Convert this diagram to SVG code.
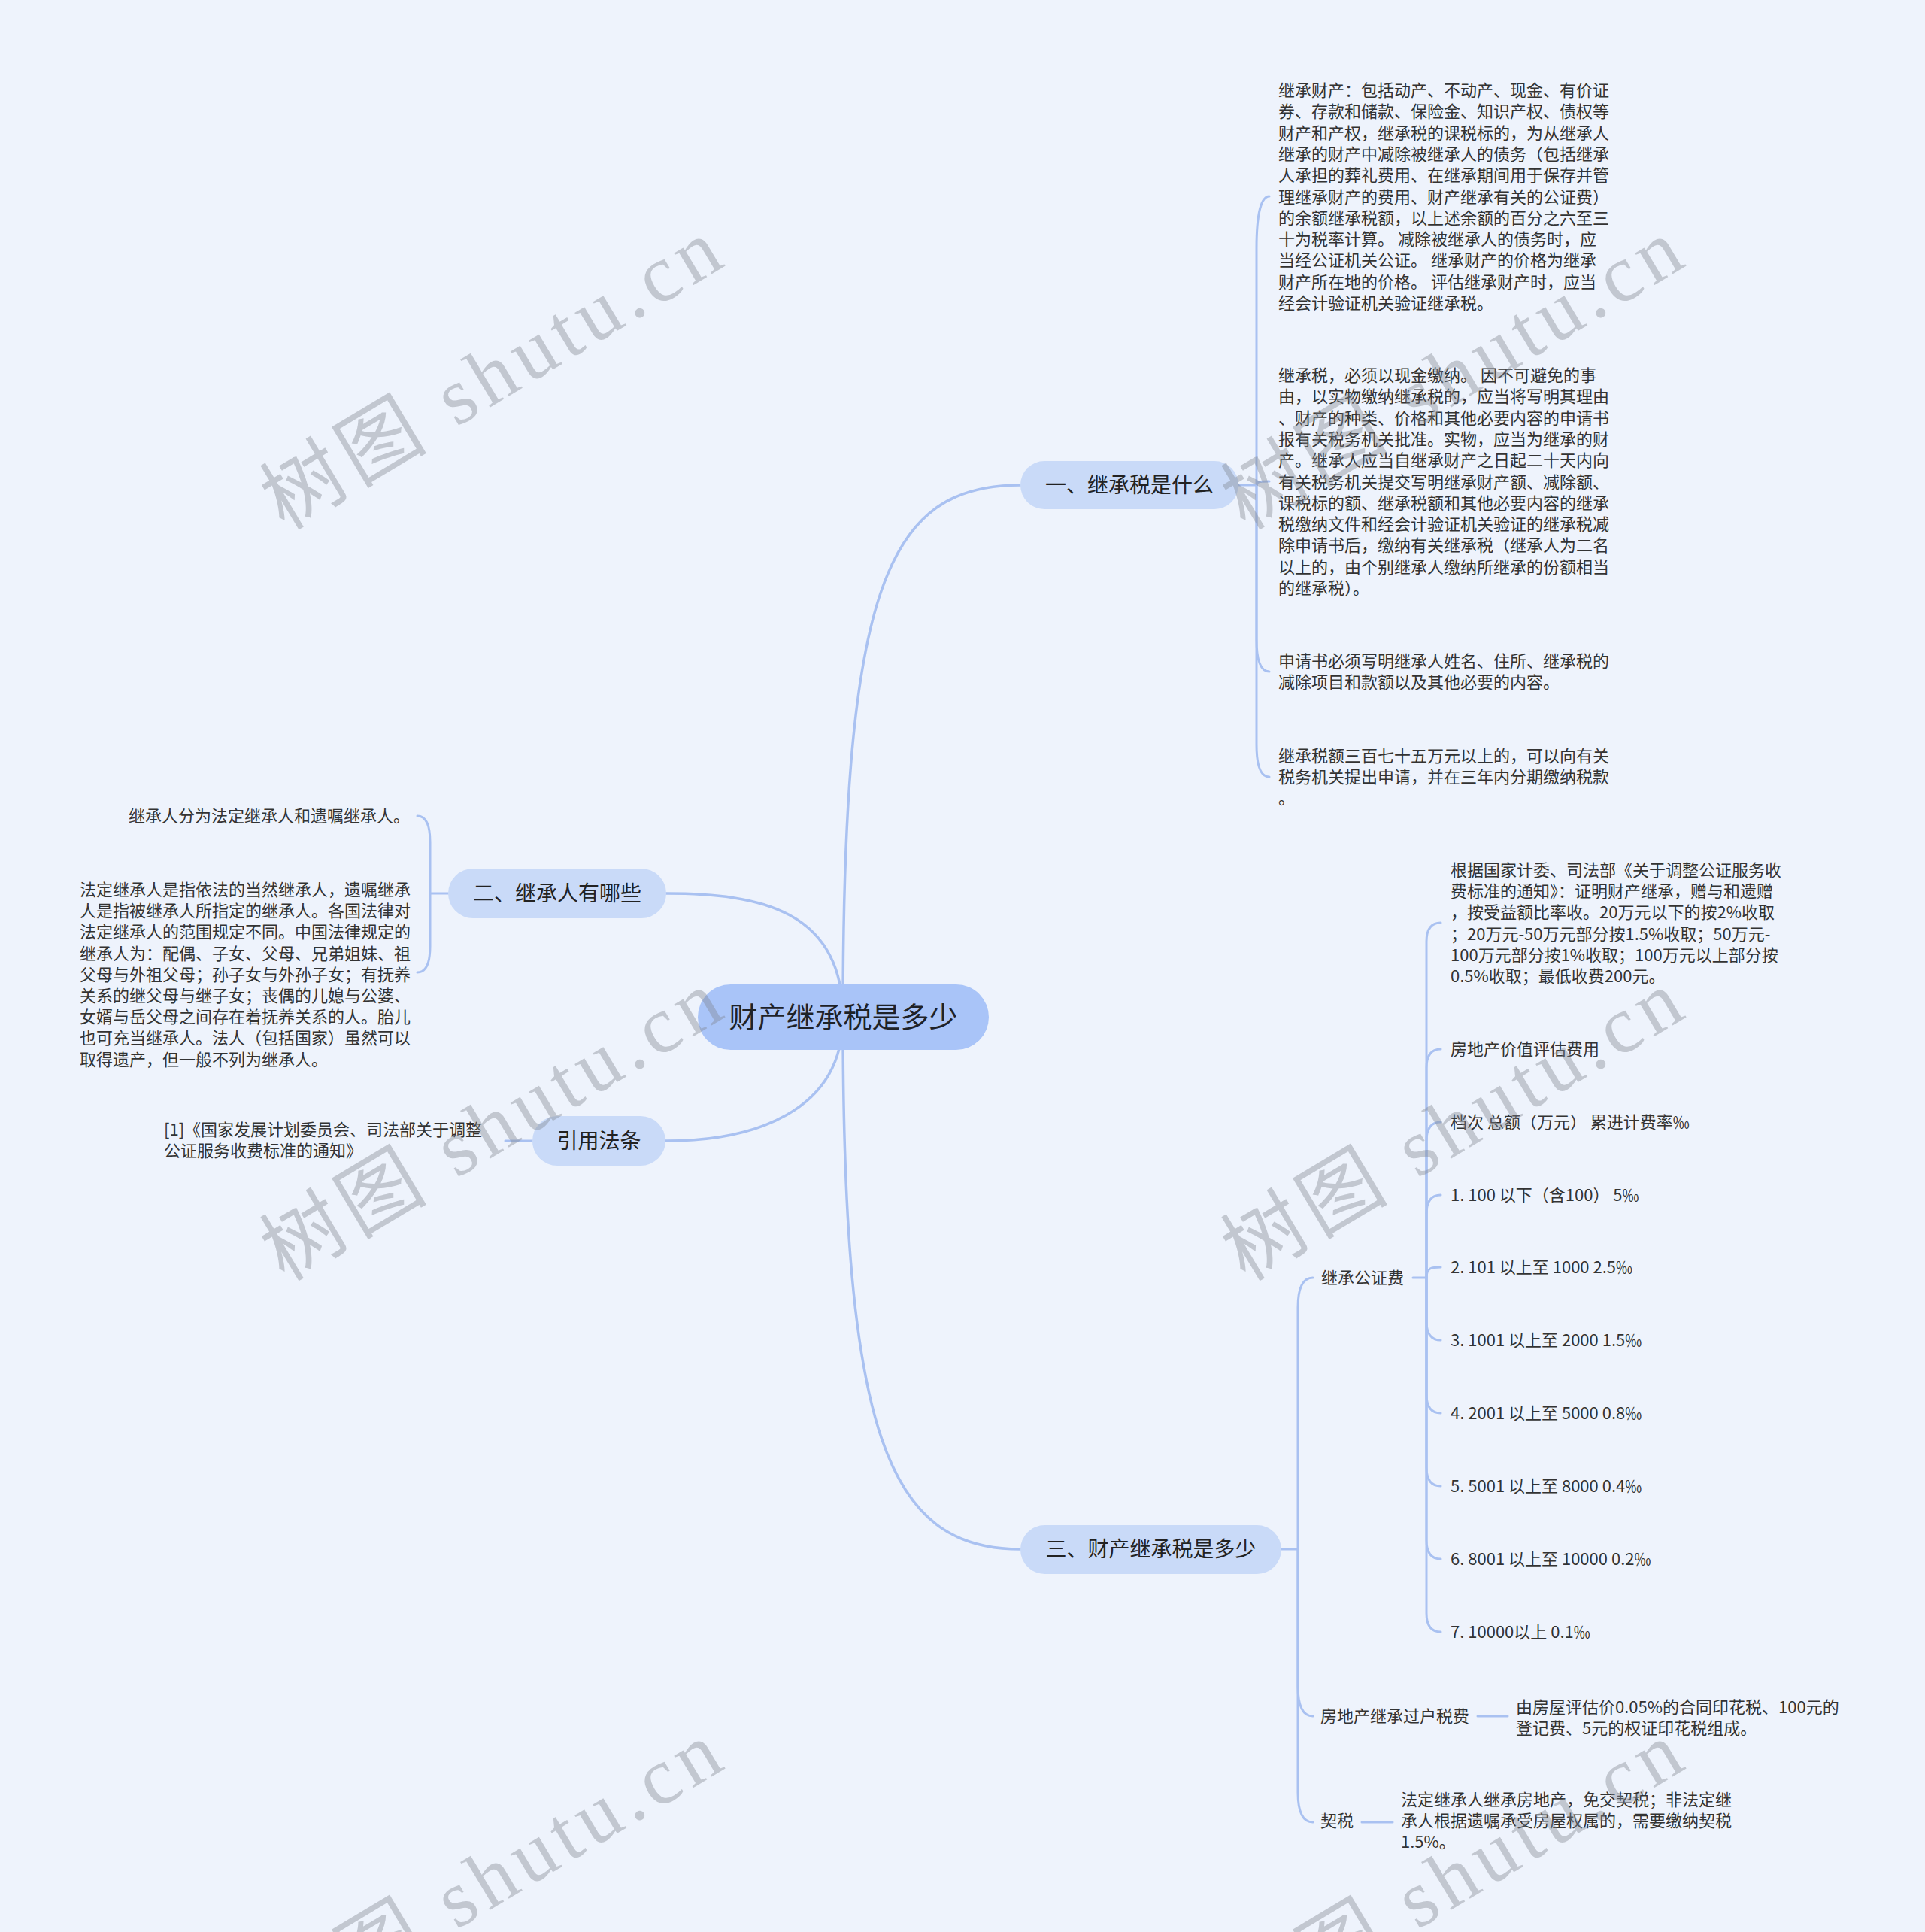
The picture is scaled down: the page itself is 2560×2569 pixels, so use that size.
<svg xmlns="http://www.w3.org/2000/svg" width="2560" height="2569" viewBox="0 0 2560 2569">
<style>
.ln{fill:none;stroke:#a9c1f1;stroke-width:3;stroke-linecap:round}
.lm{fill:none;stroke:#a9c1f1;stroke-width:3.5;stroke-linecap:round}
.t{font-family:"Noto Sans CJK SC","Noto Sans",sans-serif;font-size:22px;fill:#333}
.nt{font-family:"Noto Sans CJK SC","Noto Sans",sans-serif;font-size:28px;fill:#222;text-anchor:middle}
.rt{font-family:"Noto Sans CJK SC","Noto Sans",sans-serif;font-size:38px;fill:#1e2228;text-anchor:middle}
.n1{fill:#c9daf8}
.root{fill:#a9c4f8}
.wm{font-family:"Liberation Serif","Noto Sans CJK SC",serif;font-size:108px;fill:#80858e;fill-opacity:0.4;letter-spacing:8px}
</style>
<rect width="2560" height="2569" fill="#eef3fc"/>
<g id="connectors">
  <path class="lm" d="M1121 1352 C1121 780 1180 645 1357 645"/>
  <path class="lm" d="M1121 1352 C1121 1905 1180 2060 1357 2060"/>
  <path class="lm" d="M1121 1352 C1121 1210 1010 1188 886 1188"/>
  <path class="lm" d="M1121 1352 C1121 1480 1000 1517 885 1517"/>
  <path class="ln" d="M1647 645 L1671 645"/>
  <path class="ln" d="M1671 645 L1671 330 C1671 290 1676 261 1688 261"/>
  <path class="ln" d="M1671 645 C1671 640 1676 640 1688 640"/>
  <path class="ln" d="M1671 645 L1671 850 Q1671 893 1688 893"/>
  <path class="ln" d="M1671 645 L1671 990 Q1671 1033 1688 1033"/>
  <path class="ln" d="M596 1188 L572 1188"/>
  <path class="ln" d="M572 1188 L572 1120 Q572 1085 555 1085"/>
  <path class="ln" d="M572 1188 L572 1258 Q572 1293 555 1293"/>
  <path class="ln" d="M708 1517 L672 1517"/>
  <path class="ln" d="M1704 2060 L1726 2060"/>
  <path class="ln" d="M1726 2060 L1726 1739 Q1726 1699 1746 1699"/>
  <path class="ln" d="M1726 2060 L1726 2242 Q1726 2282 1746 2282"/>
  <path class="ln" d="M1726 2060 L1726 2383 Q1726 2423 1746 2423"/>
  <path class="ln" d="M1879 1699 L1897 1699"/>
  <path class="ln" d="M1897 1699 L1897 1252 Q1897 1227 1916 1227"/>
  <path class="ln" d="M1897 1699 L1897 1420 Q1897 1395 1916 1395"/>
  <path class="ln" d="M1897 1699 L1897 1517 Q1897 1492 1916 1492"/>
  <path class="ln" d="M1897 1699 L1897 1614 Q1897 1589 1916 1589"/>
  <path class="ln" d="M1897 1699 C1897 1685 1905 1685 1916 1685"/>
  <path class="ln" d="M1897 1699 L1897 1757 Q1897 1782 1916 1782"/>
  <path class="ln" d="M1897 1699 L1897 1854 Q1897 1879 1916 1879"/>
  <path class="ln" d="M1897 1699 L1897 1951 Q1897 1976 1916 1976"/>
  <path class="ln" d="M1897 1699 L1897 2048 Q1897 2073 1916 2073"/>
  <path class="ln" d="M1897 1699 L1897 2145 Q1897 2170 1916 2170"/>
  <path class="ln" d="M1965 2282 L2005 2282"/>
  <path class="ln" d="M1811 2423 L1852 2423"/>
</g>
<g id="root">
  <rect class="root" x="928" y="1309" width="387" height="87" rx="43.5"/>
  <text class="rt" x="1121.5" y="1366">财产继承税是多少</text>
</g>
<g id="b1">
  <rect class="n1" x="1357" y="613" width="290" height="64" rx="32"/>
  <text class="nt" x="1502" y="655">一、继承税是什么</text>
</g>
<g id="b1-a">
  <text class="t">
    <tspan x="1700" y="128">继承财产：包括动产、不动产、现金、有价证</tspan>
    <tspan x="1700" y="156">券、存款和储款、保险金、知识产权、债权等</tspan>
    <tspan x="1700" y="185">财产和产权，继承税的课税标的，为从继承人</tspan>
    <tspan x="1700" y="213">继承的财产中减除被继承人的债务（包括继承</tspan>
    <tspan x="1700" y="241">人承担的葬礼费用、在继承期间用于保存并管</tspan>
    <tspan x="1700" y="270">理继承财产的费用、财产继承有关的公证费）</tspan>
    <tspan x="1700" y="298">的余额继承税额，以上述余额的百分之六至三</tspan>
    <tspan x="1700" y="326">十为税率计算。 减除被继承人的债务时，应</tspan>
    <tspan x="1700" y="354">当经公证机关公证。 继承财产的价格为继承</tspan>
    <tspan x="1700" y="383">财产所在地的价格。 评估继承财产时，应当</tspan>
    <tspan x="1700" y="411">经会计验证机关验证继承税。</tspan>
  </text>
</g>
<g id="b1-b">
  <text class="t">
    <tspan x="1700" y="507">继承税，必须以现金缴纳。 因不可避免的事</tspan>
    <tspan x="1700" y="535">由，以实物缴纳继承税的，应当将写明其理由</tspan>
    <tspan x="1700" y="564">、财产的种类、价格和其他必要内容的申请书</tspan>
    <tspan x="1700" y="592">报有关税务机关批准。实物，应当为继承的财</tspan>
    <tspan x="1700" y="620">产。继承人应当自继承财产之日起二十天内向</tspan>
    <tspan x="1700" y="649">有关税务机关提交写明继承财产额、减除额、</tspan>
    <tspan x="1700" y="677">课税标的额、继承税额和其他必要内容的继承</tspan>
    <tspan x="1700" y="705">税缴纳文件和经会计验证机关验证的继承税减</tspan>
    <tspan x="1700" y="733">除申请书后，缴纳有关继承税（继承人为二名</tspan>
    <tspan x="1700" y="762">以上的，由个别继承人缴纳所继承的份额相当</tspan>
    <tspan x="1700" y="790">的继承税）。</tspan>
  </text>
</g>
<g id="b1-c">
  <text class="t">
    <tspan x="1700" y="887">申请书必须写明继承人姓名、住所、继承税的</tspan>
    <tspan x="1700" y="915">减除项目和款额以及其他必要的内容。</tspan>
  </text>
</g>
<g id="b1-d">
  <text class="t">
    <tspan x="1700" y="1013">继承税额三百七十五万元以上的，可以向有关</tspan>
    <tspan x="1700" y="1041">税务机关提出申请，并在三年内分期缴纳税款</tspan>
    <tspan x="1700" y="1069">。</tspan>
  </text>
</g>
<g id="b2">
  <rect class="n1" x="596" y="1155" width="290" height="66" rx="33"/>
  <text class="nt" x="741" y="1198">二、继承人有哪些</text>
</g>
<g id="b2-a">
  <text class="t" x="545" y="1093" text-anchor="end">继承人分为法定继承人和遗嘱继承人。</text>
</g>
<g id="b2-b">
  <text class="t">
    <tspan x="106" y="1191">法定继承人是指依法的当然继承人，遗嘱继承</tspan>
    <tspan x="106" y="1219">人是指被继承人所指定的继承人。各国法律对</tspan>
    <tspan x="106" y="1247">法定继承人的范围规定不同。中国法律规定的</tspan>
    <tspan x="106" y="1276">继承人为：配偶、子女、父母、兄弟姐妹、祖</tspan>
    <tspan x="106" y="1304">父母与外祖父母；孙子女与外孙子女；有抚养</tspan>
    <tspan x="106" y="1332">关系的继父母与继子女；丧偶的儿媳与公婆、</tspan>
    <tspan x="106" y="1360">女婿与岳父母之间存在着抚养关系的人。胎儿</tspan>
    <tspan x="106" y="1388">也可充当继承人。法人（包括国家）虽然可以</tspan>
    <tspan x="106" y="1417">取得遗产，但一般不列为继承人。</tspan>
  </text>
</g>
<g id="b4">
  <rect class="n1" x="708" y="1484" width="177" height="66" rx="33"/>
  <text class="nt" x="796.5" y="1527">引用法条</text>
</g>
<g id="b4-a">
  <text class="t">
    <tspan x="218" y="1510">[1]《国家发展计划委员会、司法部关于调整</tspan>
    <tspan x="218" y="1538">公证服务收费标准的通知》</tspan>
  </text>
</g>
<g id="b3">
  <rect class="n1" x="1357" y="2028" width="347" height="65" rx="32.5"/>
  <text class="nt" x="1530.5" y="2070">三、财产继承税是多少</text>
</g>
<g id="b3-1">
  <text class="t" x="1757" y="1707">继承公证费</text>
</g>
<g id="b3-1-a">
  <text class="t">
    <tspan x="1929" y="1165">根据国家计委、司法部《关于调整公证服务收</tspan>
    <tspan x="1929" y="1193">费标准的通知》：证明财产继承，赠与和遗赠</tspan>
    <tspan x="1929" y="1221">，按受益额比率收。20万元以下的按2%收取</tspan>
    <tspan x="1929" y="1250">；20万元-50万元部分按1.5%收取；50万元-</tspan>
    <tspan x="1929" y="1278">100万元部分按1%收取；100万元以上部分按</tspan>
    <tspan x="1929" y="1306">0.5%收取；最低收费200元。</tspan>
  </text>
</g>
<g id="b3-1-b"><text class="t" x="1929" y="1403">房地产价值评估费用</text></g>
<g id="b3-1-c"><text class="t" x="1929" y="1500">档次 总额（万元） 累进计费率‰</text></g>
<g id="b3-1-d"><text class="t" x="1929" y="1597">1. 100 以下（含100） 5‰</text></g>
<g id="b3-1-e"><text class="t" x="1929" y="1693">2. 101 以上至 1000 2.5‰</text></g>
<g id="b3-1-f"><text class="t" x="1929" y="1790">3. 1001 以上至 2000 1.5‰</text></g>
<g id="b3-1-g"><text class="t" x="1929" y="1887">4. 2001 以上至 5000 0.8‰</text></g>
<g id="b3-1-h"><text class="t" x="1929" y="1984">5. 5001 以上至 8000 0.4‰</text></g>
<g id="b3-1-i"><text class="t" x="1929" y="2081">6. 8001 以上至 10000 0.2‰</text></g>
<g id="b3-1-j"><text class="t" x="1929" y="2178">7. 10000以上 0.1‰</text></g>
<g id="b3-2">
  <text class="t" x="1756" y="2290">房地产继承过户税费</text>
</g>
<g id="b3-2-a">
  <text class="t">
    <tspan x="2016" y="2278">由房屋评估价0.05%的合同印花税、100元的</tspan>
    <tspan x="2016" y="2306">登记费、5元的权证印花税组成。</tspan>
  </text>
</g>
<g id="b3-3">
  <text class="t" x="1756" y="2429">契税</text>
</g>
<g id="b3-3-a">
  <text class="t">
    <tspan x="1863" y="2401">法定继承人继承房地产，免交契税；非法定继</tspan>
    <tspan x="1863" y="2429">承人根据遗嘱承受房屋权属的，需要缴纳契税</tspan>
    <tspan x="1863" y="2457">1.5%。</tspan>
  </text>
</g>
<g id="watermarks">
  <text class="wm" x="378" y="706" transform="rotate(-31 378 706)">树图 shutu.cn</text>
  <text class="wm" x="1656" y="706" transform="rotate(-31 1656 706)">树图 shutu.cn</text>
  <text class="wm" x="378" y="1705" transform="rotate(-31 378 1705)">树图 shutu.cn</text>
  <text class="wm" x="1656" y="1705" transform="rotate(-31 1656 1705)">树图 shutu.cn</text>
  <text class="wm" x="378" y="2704" transform="rotate(-31 378 2704)">树图 shutu.cn</text>
  <text class="wm" x="1656" y="2704" transform="rotate(-31 1656 2704)">树图 shutu.cn</text>
</g>
</svg>
